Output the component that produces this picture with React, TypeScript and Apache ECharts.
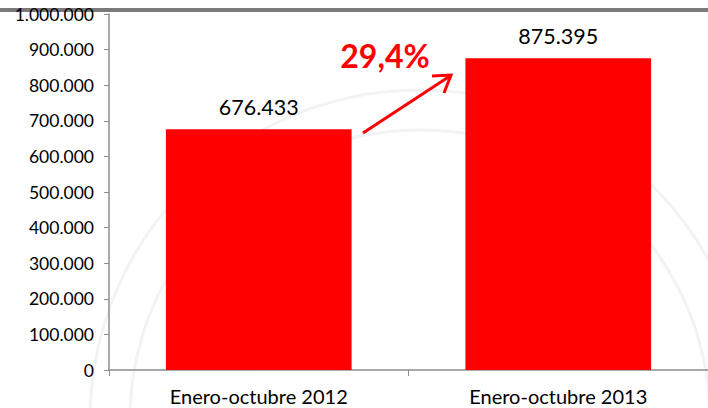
import React, { useEffect, useRef } from "react";
import * as echarts from "echarts";

const categories = ["Enero-octubre 2012", "Enero-octubre 2013"];
const values = [676433, 875395];
const growthLabel = "29,4%";
const yMin = 0;
const yMax = 1000000;
const yInterval = 100000;

const fmt = (v: number) => String(Math.round(v)).replace(/\B(?=(\d{3})+(?!\d))/g, ".");

export default function App() {
  const ref = useRef<HTMLDivElement>(null);
  useEffect(() => {
    if (!ref.current) return;
    const chart = echarts.init(ref.current, null, { renderer: "svg" });
    chart.setOption({
      animation: false,
      backgroundColor: "#ffffff",
      textStyle: { fontFamily: "Lato" },
      grid: { left: 109, right: -3, top: 14, bottom: 38, containLabel: false },
      xAxis: {
        type: "category",
        data: categories,
        axisLine: { lineStyle: { color: "#8c8c8c", width: 1.5 } },
        axisTick: { show: true, alignWithLabel: false, length: 6, lineStyle: { color: "#8c8c8c" } },
        axisLabel: { color: "#000", fontSize: 20, margin: 16, fontFamily: "Lato" },
      },
      yAxis: {
        type: "value",
        min: yMin,
        max: yMax,
        interval: yInterval,
        axisLine: { show: true, lineStyle: { color: "#8c8c8c", width: 1.5 } },
        axisTick: { show: true, length: 5, inside: false, lineStyle: { color: "#8c8c8c" } },
        splitLine: { show: false },
        axisLabel: { color: "#000", fontSize: 17.5, margin: 15, fontFamily: "Lato", formatter: (v: number) => fmt(v) },
      },
      series: [
        {
          type: "bar",
          data: values,
          barWidth: "62%",
          itemStyle: { color: "#ff0000" },
          label: {
            show: true,
            position: "top",
            distance: 11,
            color: "#000",
            fontSize: 21.5,
            fontFamily: "Lato",
            formatter: (p: any) => fmt(p.value),
          },
        },
      ],
      graphic: [
        { type: "circle", silent: true, z: -10, shape: { cx: 420, cy: 420, r: 330 }, style: { fill: "none", stroke: "#f1f3f4", lineWidth: 3 } },
        { type: "circle", silent: true, z: -10, shape: { cx: 420, cy: 420, r: 290 }, style: { fill: "none", stroke: "#f1f3f4", lineWidth: 3 } },
        { type: "rect", shape: { x: 0, y: 8, width: 708, height: 4 }, style: { fill: "#7a7a7a" } },
        { type: "text", x: 385, y: 55, style: { text: growthLabel, fill: "#ff0000", font: "bold 32px Lato", align: "center", verticalAlign: "middle" } },
        { type: "line", shape: { x1: 363, y1: 133, x2: 450, y2: 76 }, style: { stroke: "#ff0000", lineWidth: 3 } },
        { type: "polyline", shape: { points: [[432, 76], [451, 75], [444, 93]] }, style: { stroke: "#ff0000", lineWidth: 3, fill: "none" } },
      ],
    });
    return () => chart.dispose();
  }, []);
  return <div ref={ref} style={{ width: 708, height: 408, position: "absolute", left: 0, top: 0 }} />;
}
